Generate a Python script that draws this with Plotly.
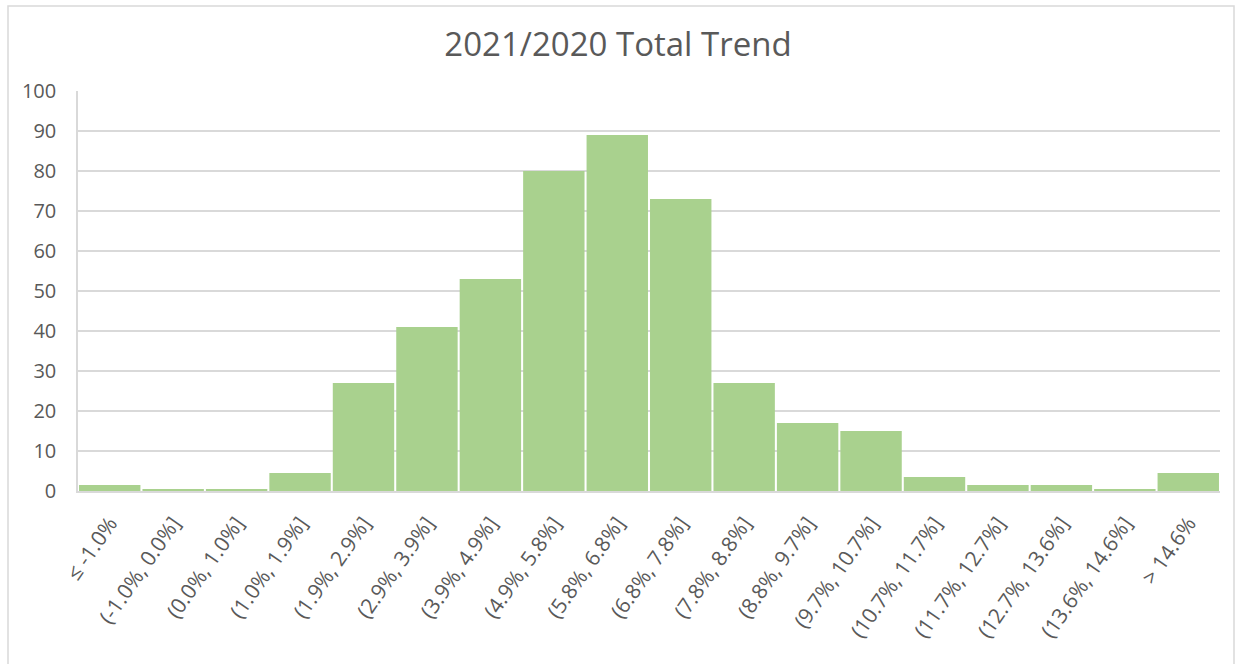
import plotly.graph_objects as go

# Histogram bins of the year-over-year change and their counts
bins = [
    "≤ -1.0%", "(-1.0%, 0.0%]", "(0.0%, 1.0%]", "(1.0%, 1.9%]", "(1.9%, 2.9%]",
    "(2.9%, 3.9%]", "(3.9%, 4.9%]", "(4.9%, 5.8%]", "(5.8%, 6.8%]", "(6.8%, 7.8%]",
    "(7.8%, 8.8%]", "(8.8%, 9.7%]", "(9.7%, 10.7%]", "(10.7%, 11.7%]",
    "(11.7%, 12.7%]", "(12.7%, 13.6%]", "(13.6%, 14.6%]", "> 14.6%",
]
counts = [1.5, 0.5, 0.5, 4.5, 27, 41, 53, 80, 89, 73, 27, 17, 15, 3.5, 1.5, 1.5, 0.5, 4.5]

y_ticks = list(range(0, 101, 10))

W, H = 1236, 664
L, R, T, B = 78, 16, 91, 173
plot_w = W - L - R
plot_h = H - T - B

text_color = "#595959"
grid_color = "#d9d9d9"
font_family = "Open Sans, sans-serif"

fig = go.Figure(
    go.Bar(
        x=bins,
        y=counts,
        marker=dict(color="#a9d18e", line=dict(width=0)),
        hoverinfo="x+y",
    )
)

# Outer chart frame
def px_x(p):
    return (p - L) / plot_w

def px_y(p):
    return (H - B - p) / plot_h

fig.add_shape(
    type="rect", xref="paper", yref="paper",
    x0=px_x(8), x1=px_x(1234), y0=px_y(720), y1=px_y(6),
    line=dict(color=grid_color, width=1.5), fillcolor="rgba(0,0,0,0)",
    layer="below",
)

fig.update_layout(
    width=W, height=H,
    margin=dict(l=L, r=R, t=T, b=B),
    paper_bgcolor="white", plot_bgcolor="white",
    bargap=0.032,
    showlegend=False,
    title=dict(
        text="2021/2020 Total Trend",
        x=0.5, xanchor="center", xref="container",
        y=1 - 44 / H, yanchor="middle", yref="container",
        font=dict(family=font_family, size=33, color=text_color),
    ),
    font=dict(family=font_family, color=text_color),
)

fig.update_xaxes(
    type="category",
    tickangle=-55,
    tickfont=dict(size=21, color=text_color),
    showline=True, linecolor=grid_color, linewidth=1.5,
    showgrid=False, ticks="",
    ticklabelstandoff=10,
)

fig.update_yaxes(
    range=[0, 100],
    tickvals=y_ticks,
    tickfont=dict(size=20, color=text_color),
    showgrid=True, gridcolor=grid_color, gridwidth=1.5,
    showline=True, linecolor=grid_color, linewidth=1.5,
    zeroline=False, ticks="",
    ticklabelstandoff=16,
)

fig.write_html("out.html")
